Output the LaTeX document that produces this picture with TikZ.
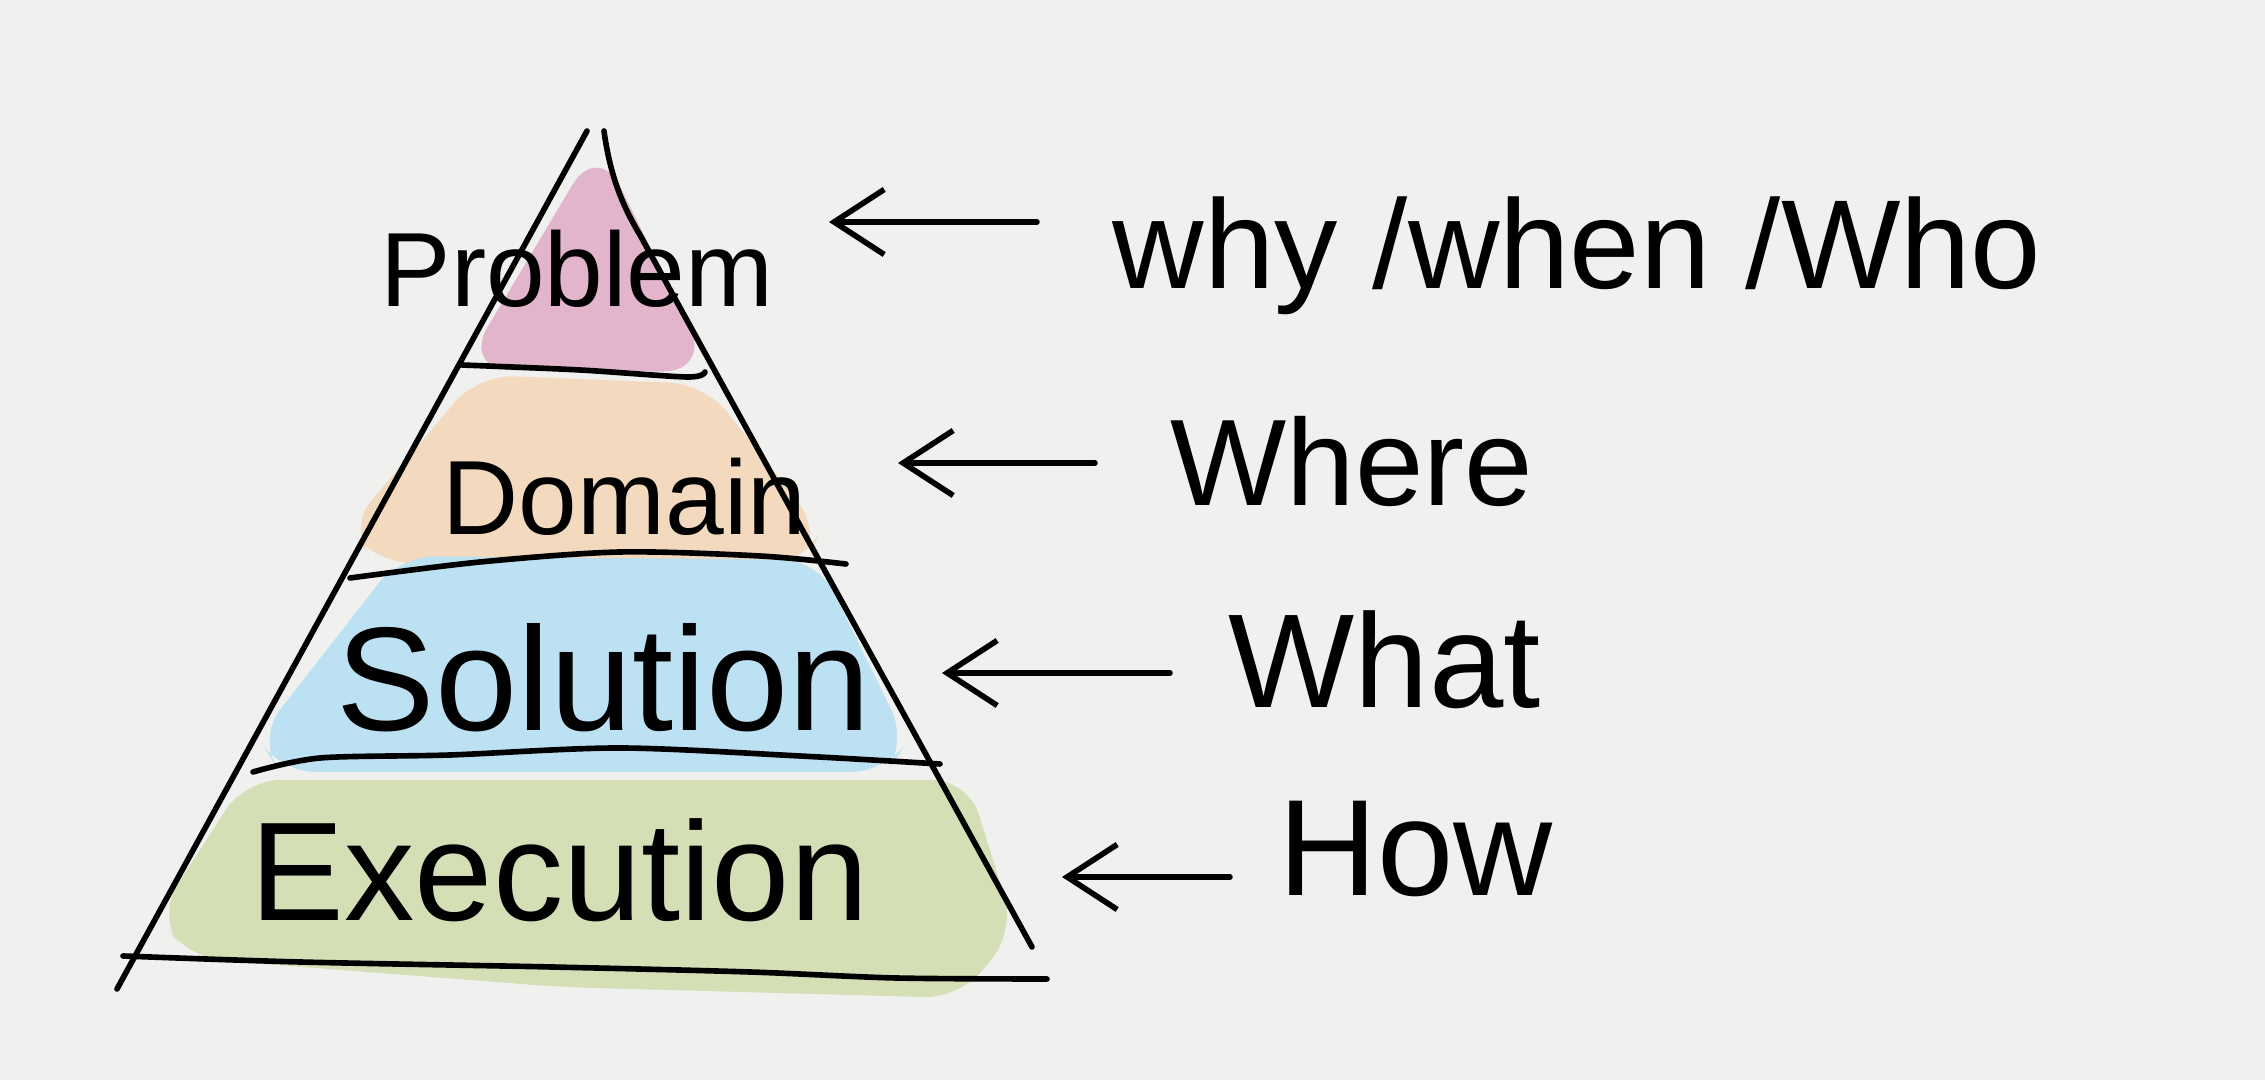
\documentclass[tikz,border=0pt]{standalone}
\usepackage{fontspec}
\newfontfamily\penfont{Liberation Sans}
\usetikzlibrary{arrows.meta}
\newcommand{\pensize}[1]{\fontsize{#1}{#1}\selectfont}
\definecolor{paper}{RGB}{240,240,238}
\definecolor{pinkwash}{RGB}{226,181,204}
\definecolor{peachwash}{RGB}{243,217,190}
\definecolor{bluewash}{RGB}{188,225,242}
\definecolor{greenwash}{RGB}{212,223,182}

\begin{document}
\begin{tikzpicture}[x=0.01cm, y=-0.01cm,
  pen/.style={line width=1.6pt, line cap=round, line join=round},
  layer/.style={inner sep=0pt, anchor=base west, font=\penfont},
  tag/.style={inner sep=0pt, anchor=base west, font=\penfont},
  >={Straight Barb[length=5mm,width=6.5mm]}]
\fill[paper] (0,0) rectangle (2265,1080);
\useasboundingbox (0,0) rectangle (2265,1080);
% colour washes behind the layers
\fill[pinkwash, rounded corners=0.5cm] (598,142) -- (712,372) -- (462,370) -- cycle;
\fill[peachwash, rounded corners=0.35cm] (478,375) -- (705,384) -- (820,530) -- (808,563) -- (376,563) -- (348,528) -- cycle;
\fill[bluewash, rounded corners=0.35cm] (400,556) -- (818,560) -- (907,742) -- (887,772) -- (280,772) -- (258,738) -- cycle;
\fill[greenwash, rounded corners=0.35cm] (245,780) -- (968,780) -- (1015,930) -- (960,998) -- (560,987) -- (188,958) -- (158,915) -- cycle;
% pyramid
\draw[pen] (587,131) -- (117,989);
\draw[pen] (604,131) .. controls (610,175) and (622,205) .. (640,235) -- (1032,947);
\draw[pen] plot[smooth] coordinates {(462,365) (580,370) (687,377) (705,372)};
\draw[pen] plot[smooth] coordinates {(350,578) (480,562) (620,552) (760,556) (846,564)};
\draw[pen] plot[smooth] coordinates {(253,772) (320,758) (450,755) (620,748) (800,756) (940,764)};
\draw[pen] plot[smooth] coordinates {(123,956) (300,962) (552,967) (750,972) (896,978) (1047,979)};
% layer names
\node[layer, font=\penfont\pensize{30}] (prob) at (380,307) {Problem};
\node[layer, font=\penfont\pensize{30}] (dom) at (442,535) {Domain};
\node[layer, font=\penfont\pensize{42}] (sol) at (336,731) {Solution};
\node[layer, font=\penfont\pensize{40}] (exe) at (250,921) {Execution};
% questions
\node[tag, font=\penfont\pensize{36}] (why) at (1112,289) {why /when /Who};
\node[tag, font=\penfont\pensize{35}] (where) at (1170,506) {Where};
\node[tag, font=\penfont\pensize{38}] (what) at (1228,708) {What};
\node[tag, font=\penfont\pensize{39}] (how) at (1278,896) {How};
\coordinate (probtip) at (829,222);
\coordinate (domtip) at (898,463);
\coordinate (soltip) at (942,673);
\coordinate (exetip) at (1062,877);
\draw[pen, ->, shorten <=7.5mm] (why.west |- probtip) -- (probtip);
\draw[pen, ->, shorten <=7.5mm] (where.west |- domtip) -- (domtip);
\draw[pen, ->, shorten <=5.8mm] (what.west |- soltip) -- (soltip);
\draw[pen, ->, shorten <=4.8mm] (how.west |- exetip) -- (exetip);
\end{tikzpicture}
\end{document}
